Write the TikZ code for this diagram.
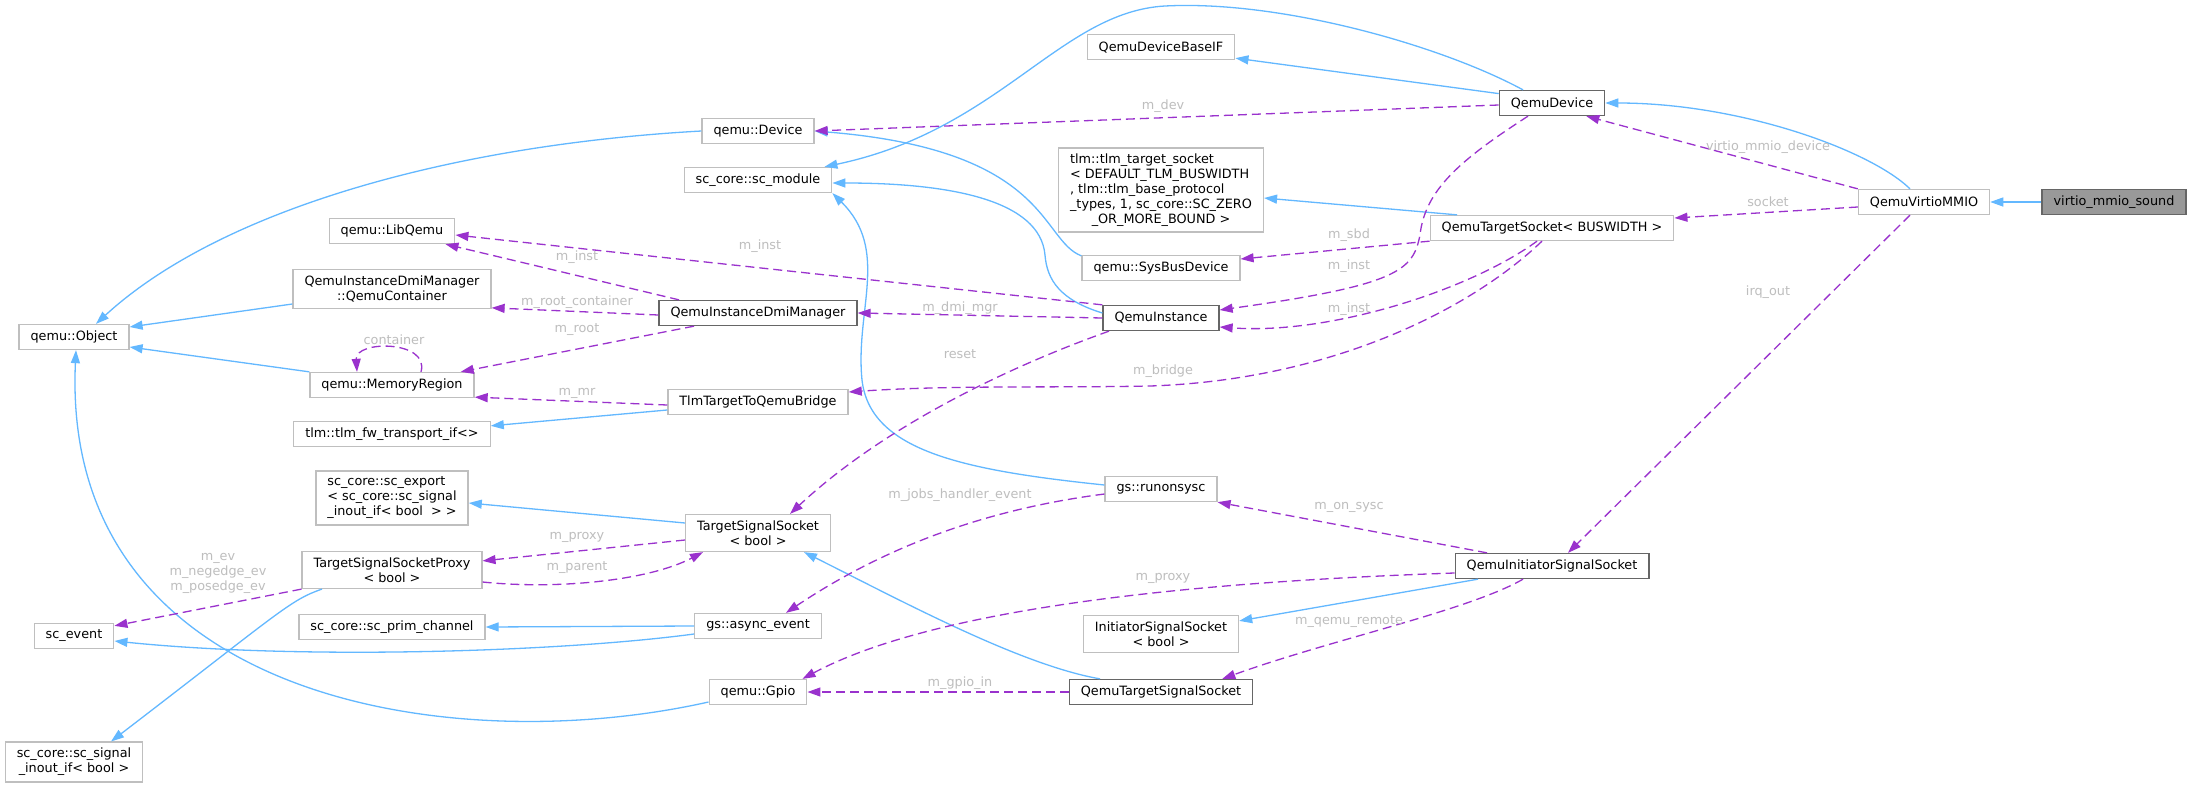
\documentclass[tikz,border=0pt]{standalone}
\usepackage{fontspec}
\setmainfont{DejaVu Sans}
\usetikzlibrary{arrows.meta}
\definecolor{inhblue}{HTML}{63B8FF}
\definecolor{usepurple}{HTML}{9A32CD}
\definecolor{lblgray}{HTML}{BEBEBE}
\definecolor{boxlight}{HTML}{BFBFBF}
\definecolor{boxdark}{HTML}{666666}
\definecolor{boxfill}{HTML}{999999}

\begin{document}
\begin{tikzpicture}[x=1pt,y=-1pt,
    font=\fontsize{12.8}{15}\selectfont,
    >={Triangle[length=13pt,width=9pt]},
    cls/.style={draw=boxlight,line width=1.3pt,fill=white,inner xsep=11.5pt,inner ysep=6pt,minimum height=25pt},
    doc/.style={cls,draw=boxdark},
    inherit/.style={->,draw=inhblue,line width=1.3pt},
    member/.style={->,draw=usepurple,line width=1.3pt,dash pattern=on 9pt off 5pt},
    lbl/.style={text=lblgray,inner sep=0pt}]
      \fill[white] (0,0) rectangle (2193,787);
      \useasboundingbox (0,0) rectangle (2193,787);

      \node [cls] (obj) at (74,337) {qemu::Object};
      \node [cls] (scev) at (74,636) {sc\_event};
      \node [cls,align=center] (sigif) at (74,762) {sc\_core::sc\_signal\\\_inout\_if< bool >};

      \node [cls] (libq) at (392,231) {qemu::LibQemu};
      \node [cls,align=center] (qcont) at (392,289) {QemuInstanceDmiManager\\::QemuContainer};
      \node [cls] (memreg) at (392,385) {qemu::MemoryRegion};
      \node [cls] (fwif) at (392,434) {tlm::tlm\_fw\_transport\_if<>};
      \node [cls,align=left] (scexp) at (392,498) {sc\_core::sc\_export\\< sc\_core::sc\_signal\\\_inout\_if< bool~ > >};
      \node [cls,align=center] (tssproxy) at (392,570) {TargetSignalSocketProxy\\< bool >};
      \node [cls] (primch) at (392,627) {sc\_core::sc\_prim\_channel};

      \node [cls] (qdevice) at (758,131) {qemu::Device};
      \node [cls] (scmod) at (758,180) {sc\_core::sc\_module};
      \node [doc] (dmimgr) at (758,313) {QemuInstanceDmiManager};
      \node [cls] (bridge) at (758,402) {TlmTargetToQemuBridge};
      \node [cls,align=center] (tss) at (758,533) {TargetSignalSocket\\< bool >};
      \node [cls] (asyncev) at (758,626) {gs::async\_event};
      \node [cls] (gpio) at (758,692) {qemu::Gpio};

      \node [cls] (devbase) at (1161,47) {QemuDeviceBaseIF};
      \node [cls,inner ysep=4.5pt] (tlmsock) at (1161,190) {\begin{tabular}{@{}l@{}}tlm::tlm\_target\_socket\\< DEFAULT\_TLM\_BUSWIDTH\\, tlm::tlm\_base\_protocol\\\_types, 1, sc\_core::SC\_ZERO\\\multicolumn{1}{@{}c@{}}{\_OR\_MORE\_BOUND >}\end{tabular}};
      \node [cls] (sysbus) at (1161,268) {qemu::SysBusDevice};
      \node [doc] (qinst) at (1161,318) {QemuInstance};
      \node [cls] (runsysc) at (1161,489) {gs::runonsysc};
      \node [cls,align=center] (iss) at (1161,634) {InitiatorSignalSocket\\< bool >};
      \node [doc] (qtss) at (1161,692) {QemuTargetSignalSocket};

      \node [doc] (qemudev) at (1552,103) {QemuDevice};
      \node [cls] (qtsock) at (1552,228) {QemuTargetSocket< BUSWIDTH >};
      \node [doc] (qiss) at (1552,566) {QemuInitiatorSignalSocket};

      \node [cls] (virtio) at (1924,202) {QemuVirtioMMIO};
      \node [doc,fill=boxfill] (sound) at (2114,202) {virtio\_mmio\_sound};

      % inheritance
      \draw[inherit] (sound) -- (virtio);
      \draw[inherit] ([xshift=-14pt]virtio.north) .. controls (1870,150) and (1740,103) .. (qemudev.east);
      \draw[inherit] (qemudev.170) -- ([yshift=2pt]devbase.south east);
      \draw[inherit] ([xshift=-29pt]qemudev.north) .. controls (1440,45) and (1280,0) .. (1165,6) .. controls (1060,12) and (1000,130) .. ([xshift=-8pt]scmod.north east);
      \draw[inherit] ([yshift=-1pt]sysbus.north west) .. controls (1040,240) and (1050,150) .. (qdevice.east);
      \draw[inherit] (qdevice.west) .. controls (450,145) and (220,210) .. ([xshift=22pt]obj.north);
      \draw[inherit] ([yshift=-15pt]qcont.west) -- ([yshift=10pt]obj.east);
      \draw[inherit] (memreg.north west) -- ([yshift=-10pt]obj.east);
      \draw[inherit] ([yshift=-10pt]gpio.west) .. controls (450,760) and (60,700) .. ([xshift=2pt]obj.south);
      \draw[inherit] ([yshift=5pt]qinst.west) .. controls (1060,300) and (1047,280) .. (1045,255) .. controls (1040,200) and (950,183) .. ([yshift=-3pt]scmod.east);
      \draw[inherit] ([yshift=4pt]runsysc.west) .. controls (960,470) and (870,450) .. (862,380) .. controls (855,310) and (890,250) .. (scmod.south east);
      \draw[inherit] ([yshift=-8pt]bridge.west) -- ([yshift=-5pt]fwif.north east);
      \draw[inherit] ([xshift=-95pt]qtsock.north) -- ([yshift=-8pt]tlmsock.east);
      \draw[inherit] ([yshift=10pt]tss.west) -- ([yshift=-5pt]scexp.east);
      \draw[inherit] ([xshift=-70pt]tssproxy.south) .. controls (290,600) and (280,612) .. ([xshift=37pt]sigif.north);
      \draw[inherit] (asyncev.west) -- (primch.east);
      \draw[inherit] ([yshift=-8pt]asyncev.west) .. controls (560,652) and (300,660) .. ([yshift=-5pt]scev.east);
      \draw[inherit] ([xshift=-61pt]qtss.north) .. controls (1020,665) and (900,600) .. ([xshift=46pt]tss.south);
      \draw[inherit] ([xshift=-74pt]qiss.south) -- ([yshift=-6pt]iss.north east);

      % members
      \draw[member] (virtio.north west) -- ([xshift=-19pt]qemudev.south east) node[lbl] at (1768,147) {virtio\_mmio\_device};
      \draw[member] ([yshift=-5pt]virtio.west) -- ([yshift=10pt]qtsock.east) node[lbl] at (1768,202) {socket};
      \draw[member] ([xshift=-14pt]virtio.south) -- ([xshift=16pt]qiss.north) node[lbl] at (1768,292) {irq\_out};
      \draw[member] ([yshift=-2pt]qemudev.west) -- (qdevice.east) node[lbl] at (1163,106) {m\_dev};
      \draw[member] ([xshift=-24pt]qemudev.south) .. controls (1460,160) and (1425,190) .. (1420,235) .. controls (1413,270) and (1400,285) .. ([yshift=8pt]qinst.east) node[lbl] at (1349,266) {m\_inst};
      \draw[member] (qtsock.south west) -- ([yshift=9pt]sysbus.east) node[lbl] at (1349,235) {m\_sbd};
      \draw[member] ([xshift=-15pt]qtsock.south) .. controls (1470,290) and (1330,335) .. ([yshift=-9pt]qinst.east) node[lbl] at (1349,309) {m\_inst};
      \draw[member] ([xshift=-10pt]qtsock.south) .. controls (1470,310) and (1330,380) .. (1150,386) .. controls (1050,388) and (950,385) .. ([yshift=10pt]bridge.east) node[lbl] at (1163,371) {m\_bridge};
      \draw[member] (qinst.north west) -- ([yshift=-4pt]libq.east) node[lbl] at (760,246) {m\_inst};
      \draw[member] ([xshift=-79pt]dmimgr.north) -- ([xshift=-10pt]libq.south east) node[lbl] at (577,257) {m\_inst};
      \draw[member] (qinst.west) -- (dmimgr.east) node[lbl] at (960,308) {m\_dmi\_mgr};
      \draw[member] ([yshift=-2pt]dmimgr.west) -- ([yshift=1pt]qcont.south east) node[lbl] at (577,302) {m\_root\_container};
      \draw[member] ([xshift=-64pt]dmimgr.south) -- ([xshift=-14pt]memreg.north east) node[lbl] at (577,330) {m\_root};
      \draw[member] ([xshift=29pt]memreg.north) .. controls (430,340) and (355,340) .. ([xshift=-35pt]memreg.north) node[lbl] at (394,340) {container};
      \draw[member] ([yshift=-3pt]bridge.west) -- ([yshift=1pt]memreg.south east) node[lbl] at (577,393) {m\_mr};
      \draw[member] ([xshift=-52pt]qinst.south) .. controls (1000,370) and (880,430) .. ([xshift=32pt]tss.north) node[lbl] at (960,354) {reset};
      \draw[member] ([yshift=-5pt]runsysc.west) .. controls (980,510) and (880,550) .. ([xshift=28pt]asyncev.north) node[lbl] at (960,495) {m\_jobs\_handler\_event};
      \draw[member] ([xshift=-65pt]qiss.north) -- (runsysc.south east) node[lbl] at (1349,507) {m\_on\_sysc};
      \draw[member] ([yshift=-7pt]qiss.west) .. controls (1250,580) and (950,600) .. ([xshift=-5pt]gpio.north east) node[lbl] at (1163,578) {m\_proxy};
      \draw[member] ([xshift=-29pt]qiss.south) .. controls (1470,610) and (1330,640) .. ([xshift=-31pt]qtss.north east) node[lbl] at (1349,622) {m\_qemu\_remote};
      \draw[member] (qtss.west) -- (gpio.east) node[lbl] at (960,683) {m\_gpio\_in};
      \draw[member] ([yshift=-7pt]tss.west) -- ([yshift=-10pt]tssproxy.north east) node[lbl] at (577,537) {m\_proxy};
      \draw[member] ([yshift=-12pt]tssproxy.east) .. controls (560,590) and (650,580) .. ([xshift=-55pt]tss.south) node[lbl] at (577,568) {m\_parent};
      \draw[member] (tssproxy.south west) -- ([yshift=-3pt]scev.north east) node[lbl,align=center] at (218,573) {m\_ev\\m\_negedge\_ev\\m\_posedge\_ev};
    \end{tikzpicture}
\end{document}
